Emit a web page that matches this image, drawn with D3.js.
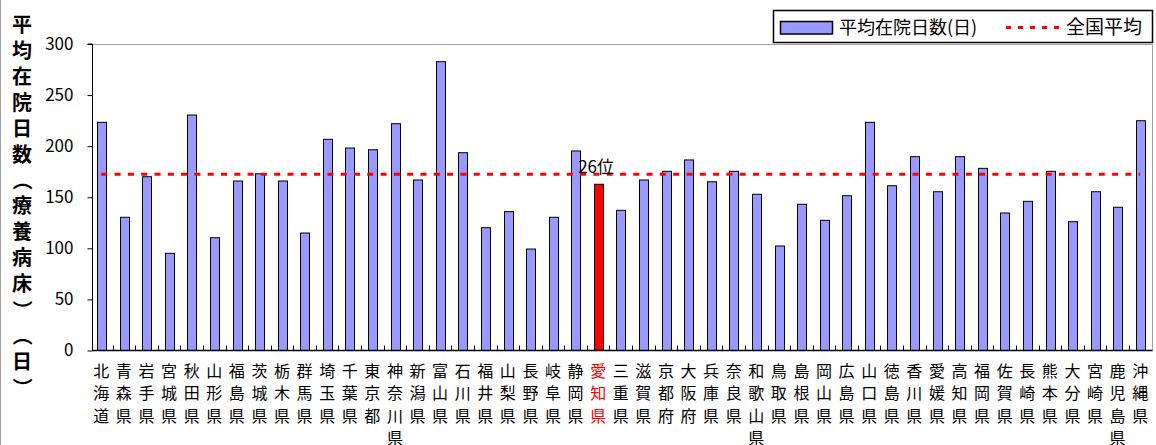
<!DOCTYPE html>
<html lang="ja">
<head>
<meta charset="utf-8">
<script src="https://cdn.jsdelivr.net/npm/d3@7"></script>
<style>
  html, body { margin: 0; padding: 0; background: #fff; }
  svg { display: block; }
  text { font-family: "Noto Sans CJK JP", "Noto Sans", sans-serif; }
</style>
</head>
<body>
<svg id="chart" width="1156" height="445"></svg>
<script>
// 都道府県別 平均在院日数（療養病床）
const prefectures = [
  "北海道","青森県","岩手県","宮城県","秋田県","山形県","福島県","茨城県","栃木県","群馬県",
  "埼玉県","千葉県","東京都","神奈川県","新潟県","富山県","石川県","福井県","山梨県","長野県",
  "岐阜県","静岡県","愛知県","三重県","滋賀県","京都府","大阪府","兵庫県","奈良県","和歌山県",
  "鳥取県","島根県","岡山県","広島県","山口県","徳島県","香川県","愛媛県","高知県","福岡県",
  "佐賀県","長崎県","熊本県","大分県","宮崎県","鹿児島県","沖縄県"
];
const stayDays = [
  223.3, 130.4, 170.1, 95.1, 230.5, 110.4, 165.9, 173.0, 165.9, 115.0,
  206.7, 198.2, 196.5, 222.0, 166.9, 282.7, 193.6, 120.2, 135.9, 99.3,
  130.4, 195.3, 162.7, 137.2, 166.9, 175.4, 186.5, 165.2, 175.4, 152.9,
  102.3, 143.1, 127.4, 151.5, 223.3, 161.3, 189.7, 155.4, 189.7, 178.3,
  134.6, 146.0, 175.4, 126.1, 155.4, 140.2, 224.9
];
const nationalAverage = 172.5;
const highlighted = "愛知県";
const rankLabel = "26位";
const yTicks = [0, 50, 100, 150, 200, 250, 300];
const yTitle = "平均在院日数（療養病床）（日）";
const legendLabels = ["平均在院日数(日)", "全国平均"];

const svg = d3.select("#chart");
const plot = { left: 92, right: 1152, top: 44, bottom: 350.5 };

const x = d3.scaleBand()
  .domain(prefectures)
  .range([90, 1151.5])
  .paddingInner(0.62)
  .paddingOuter(0.31);

const y = d3.scaleLinear().domain([0, 300]).range([plot.bottom, plot.top]);

// outer frame edge
svg.append("line")
  .attr("x1", 0.5).attr("x2", 0.5).attr("y1", 0).attr("y2", 445)
  .attr("stroke", "#a0a0a0");

// plot area border (top and right)
svg.append("path")
  .attr("d", `M${plot.left},${plot.top + 0.5}H${plot.right + 0.5}V${plot.bottom}`)
  .attr("fill", "none").attr("stroke", "#a0a0a0").attr("stroke-width", 1);

// bars
svg.append("g").selectAll("rect")
  .data(prefectures.map((p, i) => ({ p, v: stayDays[i] })))
  .join("rect")
  .attr("x", d => Math.round(x(d.p)) + 0.5)
  .attr("y", d => y(d.v))
  .attr("width", Math.round(x.bandwidth()))
  .attr("height", d => y(0) - y(d.v))
  .attr("fill", d => d.p === highlighted ? "#ff0000" : "#9999ff")
  .attr("stroke", "#000").attr("stroke-width", 1);

// national average line
const cx = p => x(p) + x.bandwidth() / 2;
svg.append("line")
  .attr("x1", cx(prefectures[0]))
  .attr("x2", cx(prefectures[prefectures.length - 1]))
  .attr("y1", y(nationalAverage)).attr("y2", y(nationalAverage))
  .attr("stroke", "#ff0000").attr("stroke-width", 3)
  .attr("stroke-dasharray", "6,7.3");

// rank annotation
svg.append("text")
  .attr("x", cx(highlighted) - 20)
  .attr("y", y(nationalAverage) - 1)
  .attr("font-size", 17).attr("fill", "#000")
  .text(rankLabel);

// y axis
const yAxis = d3.axisLeft(y).tickValues(yTicks).tickSize(5).tickPadding(14);
const gy = svg.append("g").attr("transform", `translate(${plot.left + 0.5},0)`).call(yAxis);
gy.select(".domain").attr("stroke", "#000").attr("d", `M-5,${plot.top}H0V${plot.bottom}`);
gy.selectAll(".tick line").attr("stroke", "#000");
gy.selectAll(".tick text")
  .attr("font-family", "'Noto Sans CJK JP', sans-serif")
  .attr("font-size", 17).attr("fill", "#000");

// x axis baseline and category ticks
svg.append("line")
  .attr("x1", plot.left).attr("x2", plot.right + 0.5)
  .attr("y1", plot.bottom).attr("y2", plot.bottom)
  .attr("stroke", "#000").attr("stroke-width", 1.5);
svg.append("g").selectAll("line")
  .data(prefectures.slice(1))
  .join("line")
  .attr("x1", p => Math.round(x(p) - x.step() * x.paddingInner() / 2) + 0.5)
  .attr("x2", p => Math.round(x(p) - x.step() * x.paddingInner() / 2) + 0.5)
  .attr("y1", plot.bottom - 5).attr("y2", plot.bottom)
  .attr("stroke", "#000");

// x category labels, one character per line
const labels = svg.append("g").selectAll("text")
  .data(prefectures)
  .join("text")
  .attr("font-size", 16)
  .attr("text-anchor", "middle")
  .attr("fill", p => p === highlighted ? "#ff0000" : "#000");
labels.each(function (p) {
  const t = d3.select(this);
  Array.from(p).forEach((ch, k) => {
    t.append("tspan")
      .attr("x", cx(p))
      .attr("y", 377 + k * 22.3)
      .text(ch);
  });
});

// y axis title, stacked vertically; brackets are turned to run downward
const isBracket = ch => ch === "（" || ch === "）";
svg.append("g").selectAll("text")
  .data(Array.from(yTitle))
  .join("text")
  .attr("x", 22)
  .attr("y", (d, i) => 32 + i * 25.9)
  .attr("text-anchor", "middle")
  .attr("font-size", 20).attr("font-weight", "bold")
  .attr("fill", "#000")
  .attr("transform", (d, i) => isBracket(d) ? `rotate(90,22,${32 + i * 25.9 - 7})` : null)
  .text(d => d);

// legend
const lg = svg.append("g");
lg.append("rect")
  .attr("x", 773.5).attr("y", 10.5).attr("width", 379).attr("height", 32)
  .attr("fill", "#fff").attr("stroke", "#000").attr("stroke-width", 1.5);
lg.append("rect")
  .attr("x", 780.5).attr("y", 21.5).attr("width", 52).attr("height", 12.5)
  .attr("fill", "#9999ff").attr("stroke", "#000").attr("stroke-width", 1.5);
lg.append("text")
  .attr("x", 839).attr("y", 34)
  .attr("font-size", 18).attr("fill", "#000")
  .text(legendLabels[0]);
lg.append("line")
  .attr("x1", 1006).attr("x2", 1061).attr("y1", 27.5).attr("y2", 27.5)
  .attr("stroke", "#ff0000").attr("stroke-width", 3)
  .attr("stroke-dasharray", "5,7");
lg.append("text")
  .attr("x", 1066).attr("y", 34)
  .attr("font-size", 19).attr("fill", "#000")
  .text(legendLabels[1]);
</script>
</body>
</html>
